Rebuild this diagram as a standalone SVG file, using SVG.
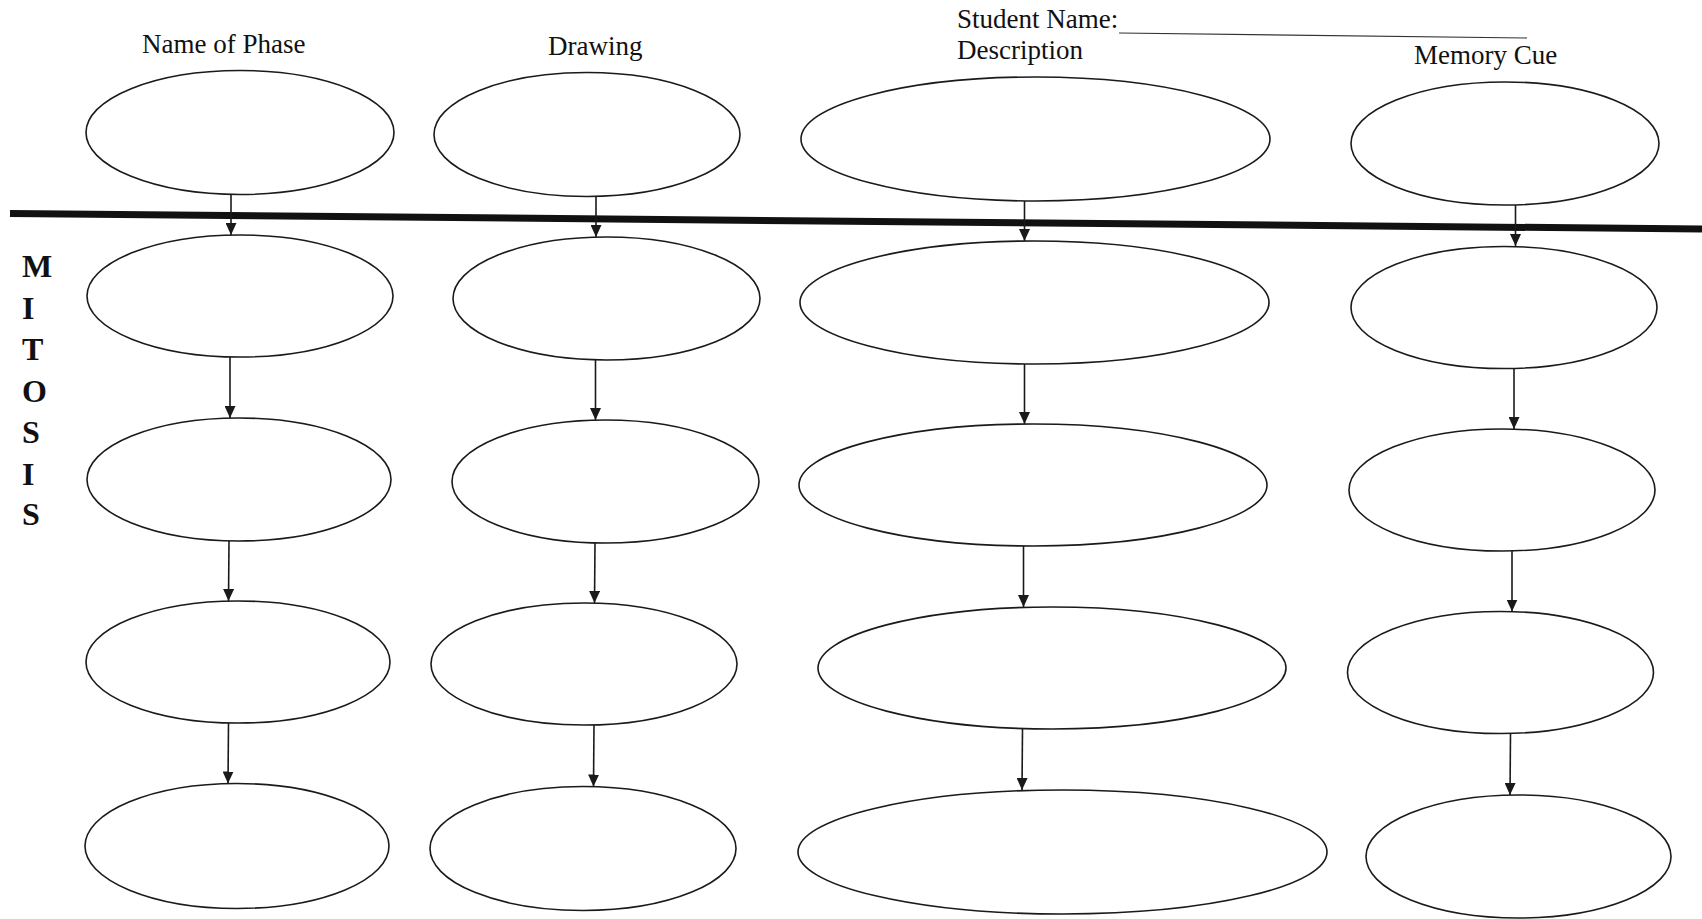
<svg xmlns="http://www.w3.org/2000/svg" width="1702" height="919" viewBox="0 0 1702 919">
  <style>
    .bg { fill: #ffffff; }
    .node ellipse { fill: none; stroke: #1a1a1a; stroke-width: 1.6; }
    .hdr { font-family: "Liberation Serif", "Times New Roman", serif; font-size: 27px; fill: #111; }
    .side { font-family: "Liberation Serif", "Times New Roman", serif; font-size: 32px; font-weight: bold; fill: #111; }
    .edge { stroke: #1a1a1a; stroke-width: 1.6; fill: none; marker-end: url(#arrow); }
  </style>
  <defs>
    <marker id="arrow" markerUnits="userSpaceOnUse" viewBox="0 0 12 11" refX="12" refY="5.5" markerWidth="12" markerHeight="11" orient="auto">
      <path d="M0,0 L12,5.5 L0,11 z" fill="#1a1a1a"/>
    </marker>
  </defs>

  <rect class="bg" x="0" y="0" width="1702" height="919"/>

  <!-- column headings -->
  <g id="headings">
    <text class="hdr" x="142" y="53">Name of Phase</text>
    <text class="hdr" x="548" y="55">Drawing</text>
    <text class="hdr" x="957" y="28">Student Name:</text>
    <line x1="1119" y1="33" x2="1527" y2="38" stroke="#333" stroke-width="1.2"/>
    <text class="hdr" x="957" y="59">Description</text>
    <text class="hdr" x="1414" y="64">Memory Cue</text>
  </g>

  <!-- divider under the heading row -->
  <line id="divider" x1="10" y1="213.5" x2="1702" y2="229" stroke="#111" stroke-width="7"/>

  <!-- vertical side label -->
  <g id="side-label">
    <text class="side" x="22" y="277">M</text>
    <text class="side" x="22" y="319">I</text>
    <text class="side" x="22" y="360">T</text>
    <text class="side" x="22" y="402">O</text>
    <text class="side" x="22" y="443">S</text>
    <text class="side" x="22" y="485">I</text>
    <text class="side" x="22" y="525">S</text>
  </g>

  <!-- column 1: name of phase -->
  <g id="phase-0" class="node"><ellipse cx="240" cy="132.5" rx="154" ry="62"/></g>
  <g id="phase-1" class="node"><ellipse cx="240" cy="296" rx="153" ry="61"/></g>
  <g id="phase-2" class="node"><ellipse cx="239" cy="479.5" rx="152" ry="61.5"/></g>
  <g id="phase-3" class="node"><ellipse cx="238" cy="662" rx="152" ry="61"/></g>
  <g id="phase-4" class="node"><ellipse cx="237" cy="846" rx="152" ry="62.5"/></g>

  <!-- column 2: drawing -->
  <g id="drawing-0" class="node"><ellipse cx="587" cy="134.5" rx="153" ry="62"/></g>
  <g id="drawing-1" class="node"><ellipse cx="606.5" cy="298.5" rx="153.5" ry="61.5"/></g>
  <g id="drawing-2" class="node"><ellipse cx="605.5" cy="481.5" rx="153.5" ry="61.5"/></g>
  <g id="drawing-3" class="node"><ellipse cx="584" cy="664" rx="153" ry="61"/></g>
  <g id="drawing-4" class="node"><ellipse cx="583" cy="848.5" rx="153" ry="62"/></g>

  <!-- column 3: description -->
  <g id="description-0" class="node"><ellipse cx="1035.5" cy="139" rx="234.5" ry="62"/></g>
  <g id="description-1" class="node"><ellipse cx="1034.5" cy="302.5" rx="234.5" ry="61.5"/></g>
  <g id="description-2" class="node"><ellipse cx="1033" cy="485" rx="234" ry="61"/></g>
  <g id="description-3" class="node"><ellipse cx="1052" cy="668" rx="234" ry="61"/></g>
  <g id="description-4" class="node"><ellipse cx="1062.5" cy="852" rx="264.5" ry="62"/></g>

  <!-- column 4: memory cue -->
  <g id="cue-0" class="node"><ellipse cx="1505" cy="143.5" rx="154" ry="61.5"/></g>
  <g id="cue-1" class="node"><ellipse cx="1504" cy="307.5" rx="153" ry="61"/></g>
  <g id="cue-2" class="node"><ellipse cx="1502" cy="490" rx="153" ry="61"/></g>
  <g id="cue-3" class="node"><ellipse cx="1500.5" cy="672.5" rx="153" ry="61"/></g>
  <g id="cue-4" class="node"><ellipse cx="1518.5" cy="856.5" rx="152.5" ry="61.5"/></g>

  <!-- connectors -->
  <g id="connectors">
    <line class="edge" x1="231" y1="194.5" x2="231" y2="235"/>
    <line class="edge" x1="230" y1="357" x2="230" y2="418"/>
    <line class="edge" x1="229" y1="541" x2="228.5" y2="601"/>
    <line class="edge" x1="228.5" y1="723" x2="228" y2="783.5"/>

    <line class="edge" x1="596" y1="196.5" x2="596" y2="237"/>
    <line class="edge" x1="595.5" y1="360" x2="595.5" y2="420"/>
    <line class="edge" x1="595" y1="543" x2="594.5" y2="603"/>
    <line class="edge" x1="594" y1="725" x2="593.5" y2="786.5"/>

    <line class="edge" x1="1024.5" y1="201" x2="1024.5" y2="241"/>
    <line class="edge" x1="1024.5" y1="364" x2="1024.5" y2="424"/>
    <line class="edge" x1="1023.5" y1="546" x2="1023.5" y2="607"/>
    <line class="edge" x1="1022.5" y1="729" x2="1022" y2="790"/>

    <line class="edge" x1="1515.5" y1="205" x2="1515.5" y2="246"/>
    <line class="edge" x1="1514" y1="368.5" x2="1514" y2="429"/>
    <line class="edge" x1="1512" y1="551" x2="1512" y2="611.5"/>
    <line class="edge" x1="1510.5" y1="733.5" x2="1510" y2="795"/>
  </g>
</svg>
